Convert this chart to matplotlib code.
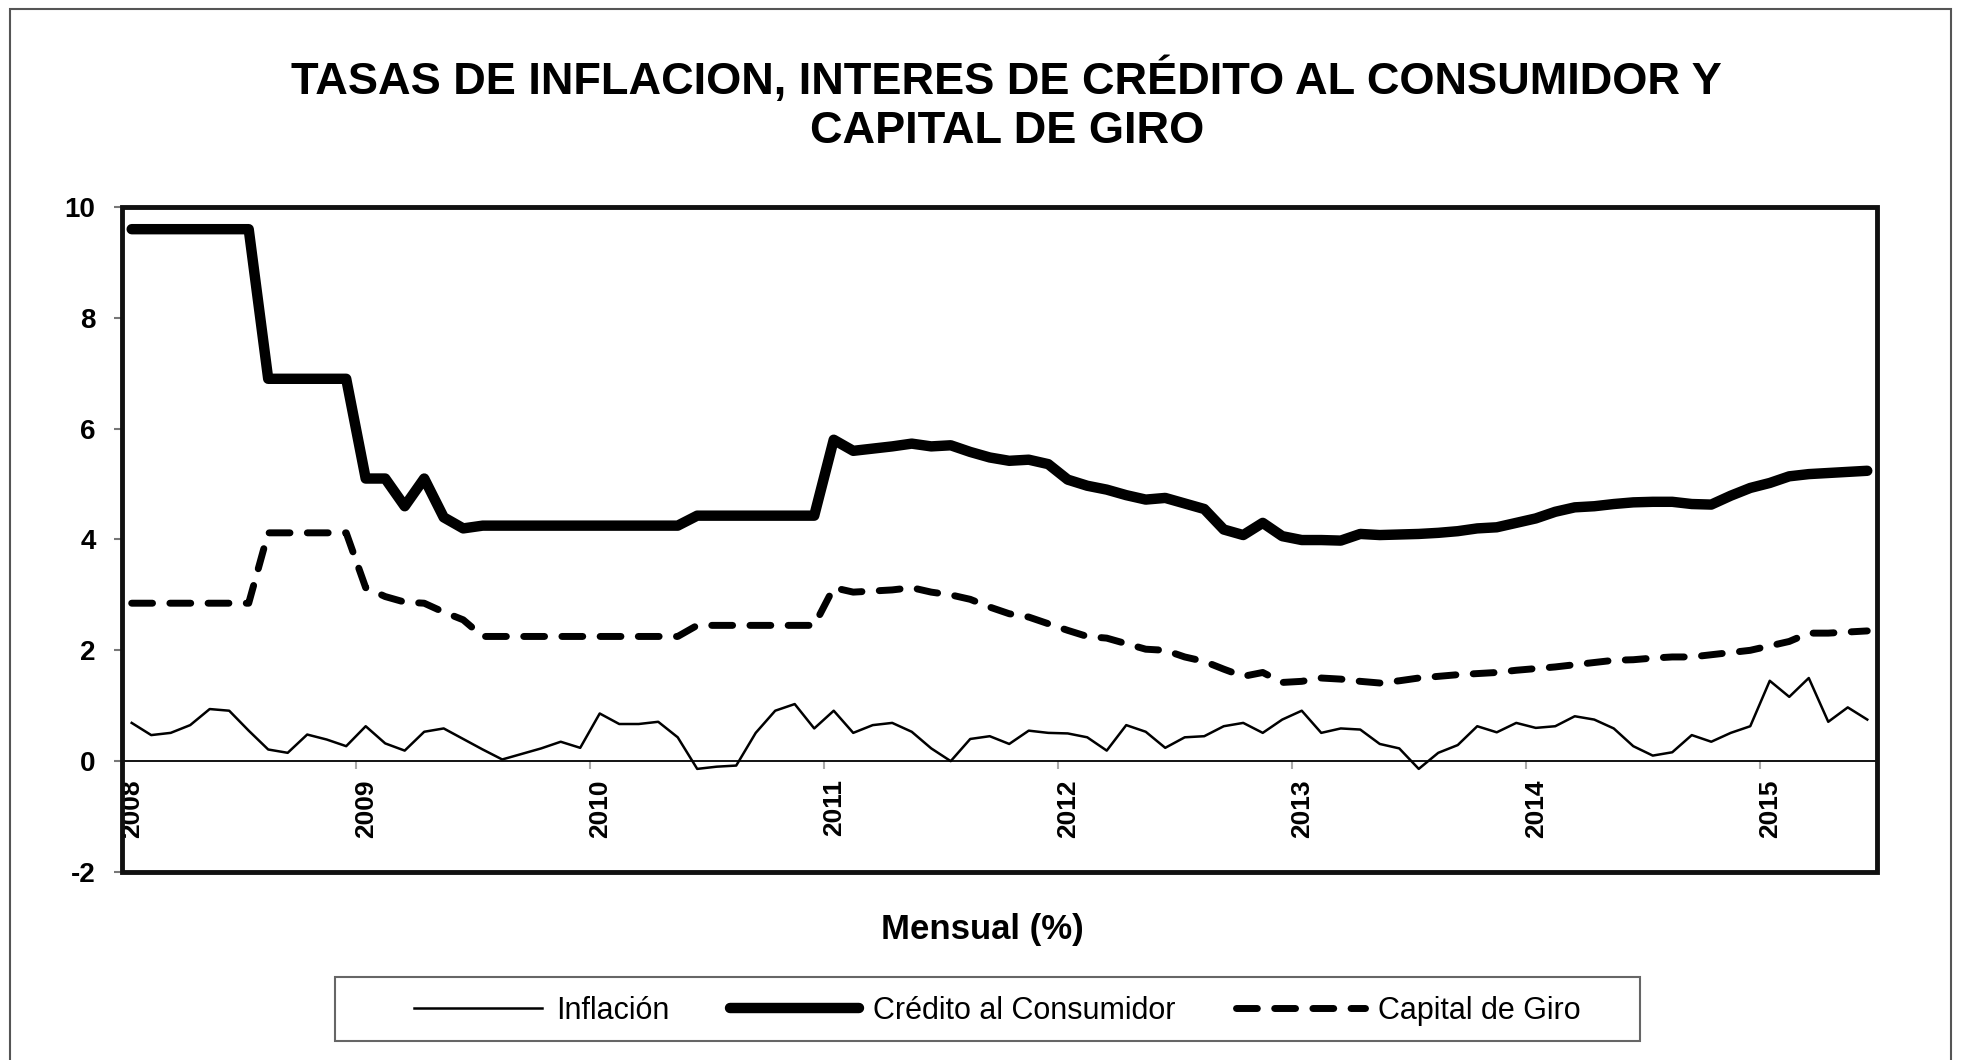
"""Tasas de inflacion, credito al consumidor y capital de giro (mensual, %)."""
import matplotlib
matplotlib.use("Agg")
import matplotlib.pyplot as plt
import numpy as np
from matplotlib.patches import Rectangle

years = ["2008", "2009", "2010", "2011", "2012", "2013", "2014", "2015"]

# monthly values, Jan 2008 .. Jun 2015
inflacion = [
    0.69, 0.47, 0.51, 0.65, 0.94, 0.91, 0.55, 0.21, 0.15, 0.48, 0.39, 0.27,
    0.63, 0.32, 0.19, 0.53, 0.59, 0.40, 0.21, 0.03, 0.13, 0.23, 0.35, 0.24,
    0.86, 0.67, 0.67, 0.71, 0.43, -0.14, -0.10, -0.08, 0.51, 0.91, 1.03, 0.59,
    0.91, 0.51, 0.65, 0.69, 0.53, 0.23, 0.00, 0.40, 0.45, 0.31, 0.55, 0.51,
    0.50, 0.43, 0.19, 0.65, 0.53, 0.24, 0.43, 0.45, 0.63, 0.69, 0.51, 0.75,
    0.91, 0.51, 0.59, 0.57, 0.31, 0.23, -0.14, 0.15, 0.29, 0.63, 0.52, 0.69,
    0.60, 0.63, 0.81, 0.75, 0.59, 0.27, 0.10, 0.16, 0.47, 0.35, 0.51, 0.63,
    1.45, 1.16, 1.50, 0.71, 0.97, 0.75,
]
credito = [
    9.60, 9.60, 9.60, 9.60, 9.60, 9.60, 9.60, 6.90, 6.90, 6.90, 6.90, 6.90,
    5.10, 5.10, 4.60, 5.10, 4.40, 4.20, 4.25, 4.25, 4.25, 4.25, 4.25, 4.25,
    4.25, 4.25, 4.25, 4.25, 4.25, 4.43, 4.43, 4.43, 4.43, 4.43, 4.43, 4.43,
    5.80, 5.60, 5.64, 5.68, 5.73, 5.68, 5.70, 5.58, 5.48, 5.42, 5.44, 5.36,
    5.08, 4.97, 4.90, 4.80, 4.72, 4.75, 4.65, 4.55, 4.18, 4.08, 4.30, 4.06,
    3.99, 3.99, 3.98, 4.10, 4.08, 4.09, 4.10, 4.12, 4.15, 4.20, 4.22, 4.30,
    4.38, 4.50, 4.58, 4.60, 4.64, 4.67, 4.68, 4.68, 4.64, 4.63, 4.79, 4.93,
    5.02, 5.14, 5.18, 5.20, 5.22, 5.24,
]
capital = [
    2.85, 2.85, 2.85, 2.85, 2.85, 2.85, 2.85, 4.12, 4.12, 4.12, 4.12, 4.12,
    3.13, 2.97, 2.87, 2.85, 2.69, 2.55, 2.25, 2.25, 2.25, 2.25, 2.25, 2.25,
    2.25, 2.25, 2.25, 2.25, 2.25, 2.45, 2.45, 2.45, 2.45, 2.45, 2.45, 2.45,
    3.13, 3.05, 3.07, 3.09, 3.13, 3.05, 3.00, 2.92, 2.78, 2.66, 2.60, 2.48,
    2.36, 2.25, 2.22, 2.12, 2.02, 2.00, 1.88, 1.80, 1.66, 1.53, 1.60, 1.42,
    1.44, 1.50, 1.48, 1.44, 1.41, 1.45, 1.50, 1.53, 1.56, 1.58, 1.60, 1.64,
    1.67, 1.70, 1.74, 1.78, 1.82, 1.83, 1.86, 1.88, 1.88, 1.92, 1.96, 2.00,
    2.08, 2.16, 2.31, 2.31, 2.33, 2.35,
]

plt.rcParams["font.family"] = ["Liberation Sans", "DejaVu Sans"]
plt.rcParams["axes.unicode_minus"] = False

x = np.arange(len(inflacion))

fig = plt.figure(figsize=(19.7, 10.6), dpi=100)
ax = fig.add_axes([0.0619, 0.1774, 0.8909, 0.6273])

ax.plot(x, inflacion, color="black", lw=1.8, label="Inflación")
ax.plot(x, credito, color="black", lw=7.5, solid_capstyle="round",
        solid_joinstyle="round", label="Crédito al Consumidor")
ax.plot(x, capital, color="black", lw=5, dashes=(3, 2.5),
        dash_capstyle="round", dash_joinstyle="round", label="Capital de Giro")

ax.set_xlim(-0.5, len(x) - 0.5)
ax.set_ylim(-2, 10)

# frame drawn separately, x axis crosses at zero like the original
for side in ("top", "right", "left"):
    ax.spines[side].set_visible(False)
ax.spines["bottom"].set_position(("data", 0))
ax.spines["bottom"].set_linewidth(1.3)
ax.add_patch(Rectangle((0, 0), 1, 1, transform=ax.transAxes, fill=False,
                       ec="#111111", lw=3.5, clip_on=False, zorder=5))

ax.set_yticks(np.arange(-2, 11, 2))
ax.tick_params(axis="y", direction="out", length=6, width=1.5, pad=13,
               labelsize=20, color="#777777")
for lab in ax.get_yticklabels():
    lab.set_fontweight("bold")

ax.set_xticks(np.arange(0, len(x), 12))
ax.set_xticklabels(years, rotation=90, fontsize=19, fontweight="bold")
ax.set_xticks(np.arange(-0.5, len(x), 12), minor=True)
ax.tick_params(axis="x", which="major", length=0, pad=13)
ax.tick_params(axis="x", which="minor", length=6, width=1.5, color="#aaaaaa")

fig.text(0.511, 0.9245, "TASAS DE INFLACION, INTERES DE CRÉDITO AL CONSUMIDOR Y",
         ha="center", va="center", fontsize=32.5, fontweight="bold")
fig.text(0.511, 0.8755, "CAPITAL DE GIRO",
         ha="center", va="center", fontsize=32.5, fontweight="bold")
fig.text(0.4985, 0.1228, "Mensual (%)", ha="center", va="center",
         fontsize=25, fontweight="bold")

leg = fig.legend(loc="center", bbox_to_anchor=(0.5063, 0.0465), ncol=3,
                 frameon=False, fontsize=22, handlelength=4.2,
                 handletextpad=0.45, columnspacing=2.0)
fig.add_artist(Rectangle((335 / 1970, 1 - 1041 / 1060), 1305 / 1970, 64 / 1060,
                         transform=fig.transFigure, fill=False,
                         ec="#666666", lw=1.5))

fig.add_artist(Rectangle((10 / 1970, -0.05), 1941 / 1970, 1.05 - 9 / 1060,
                         transform=fig.transFigure, fill=False,
                         ec="#555555", lw=1.5))

fig.savefig("out.png", dpi=100)
